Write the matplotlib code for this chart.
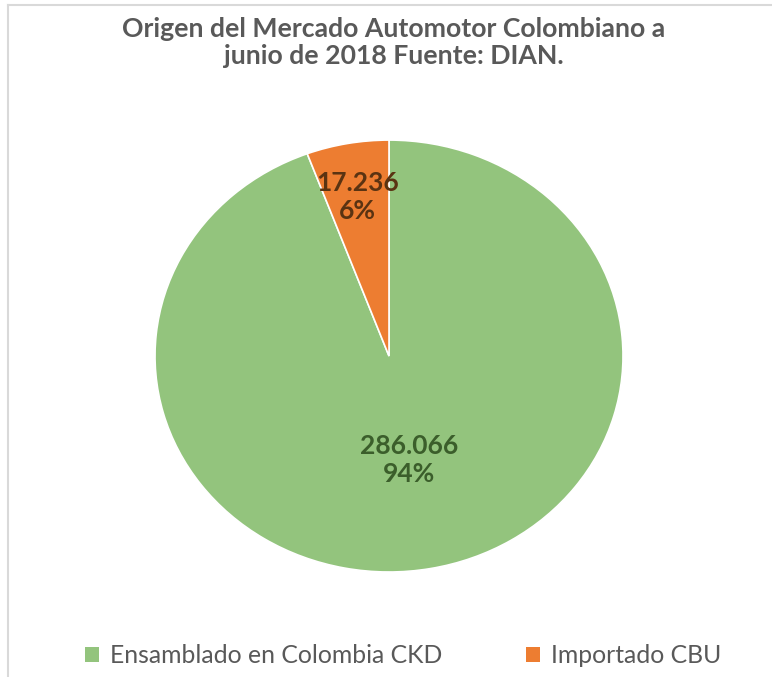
import matplotlib.pyplot as plt
from matplotlib.lines import Line2D
from matplotlib.patches import Patch
import numpy as np

plt.rcParams['font.family'] = ['Lato', 'DejaVu Sans']

categories = ['Ensamblado en Colombia CKD', 'Importado CBU']
values = [286066, 17236]
value_labels = ['286.066', '17.236']
colors = ['#93C47D', '#ED7D31']
text_colors = ['#3B5E2B', '#5A3312']
label_dist = [0.49, 0.75]

fig = plt.figure(figsize=(7.72, 6.77), dpi=100)
# the reference pie is slightly stretched horizontally
ax = fig.add_axes([0.2008, 0.1551, 0.6062, 0.638])

wedges, _ = ax.pie(values, colors=colors, startangle=90, counterclock=False,
                   wedgeprops=dict(edgecolor='white', linewidth=1.2))
ax.set_aspect('auto')
ax.set_xlim(-1, 1)
ax.set_ylim(-1, 1)

total = sum(values)
for w, lab, v, tc, d in zip(wedges, value_labels, values, text_colors, label_dist):
    ang = np.deg2rad((w.theta1 + w.theta2) / 2)
    pct = round(100 * v / total)
    ax.text(d * np.cos(ang), d * np.sin(ang), f'{lab}\n{pct}%', ha='center', va='center',
            fontsize=19, fontweight='bold', color=tc, linespacing=1.2)

fig.text(0.51, 0.937, 'Origen del Mercado Automotor Colombiano a\njunio de 2018 Fuente: DIAN.',
         ha='center', va='center', fontsize=19.2, fontweight='bold', color='#595959',
         linespacing=1.15)

handles = [Patch(facecolor=c, edgecolor='none') for c in colors]
fig.legend(handles, categories, loc='center', bbox_to_anchor=(0.522, 0.032), ncol=2,
           frameon=False, fontsize=17.8, handlelength=0.55, handleheight=0.55,
           handletextpad=0.45, columnspacing=3.4, labelcolor='#595959')

# chart border
fig.add_artist(Line2D([0.011, 1.0], [0.993, 0.993], color='#D9D9D9', lw=1.5))
fig.add_artist(Line2D([0.011, 0.011], [0.0, 0.993], color='#D9D9D9', lw=1.5))

fig.savefig('out.png', dpi=100)
